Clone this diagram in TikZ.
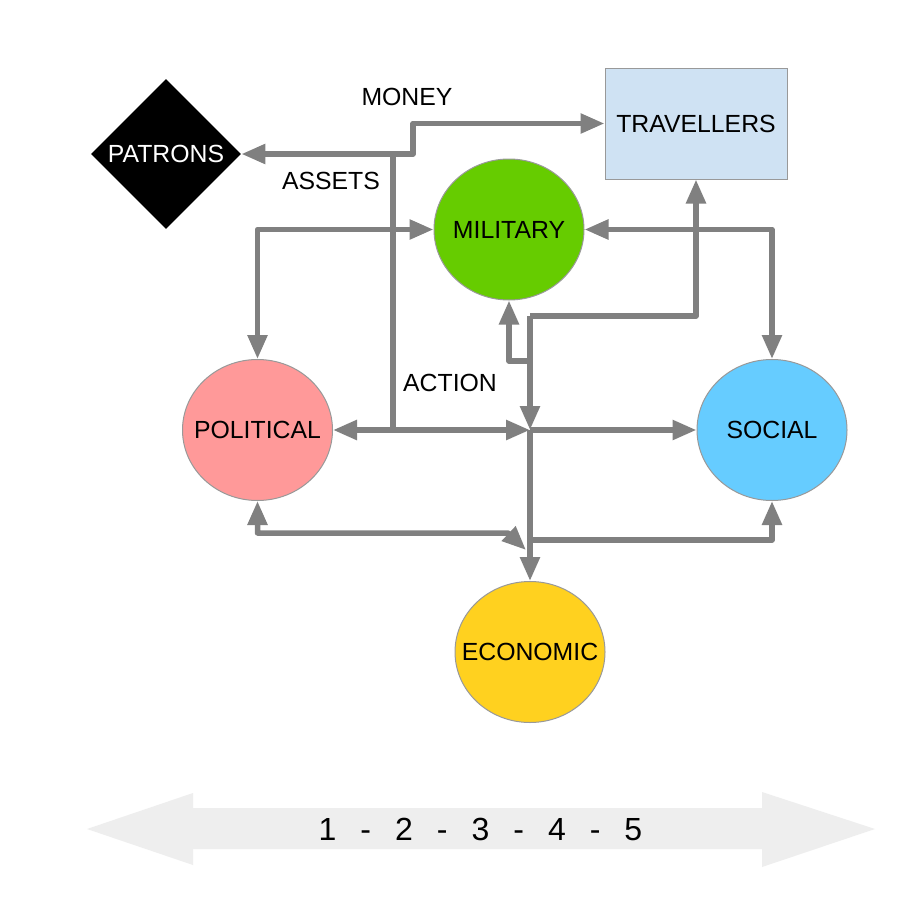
\documentclass[tikz,border=0pt]{standalone}
\usepackage{fontspec}
\setmainfont{Liberation Sans}
\usetikzlibrary{arrows.meta,shapes.geometric}
\definecolor{linegray}{HTML}{808080}
\definecolor{edgegray}{HTML}{999999}
\definecolor{milgreen}{HTML}{66CC00}
\definecolor{polred}{HTML}{FF9999}
\definecolor{socblue}{HTML}{66CCFF}
\definecolor{ecoyellow}{HTML}{FFD11F}
\definecolor{travblue}{HTML}{CFE2F3}
\definecolor{bandgray}{HTML}{EEEEEE}
\begin{document}
\begin{tikzpicture}[x=0.5pt,y=-0.5pt,
  every node/.style={font=\fontsize{12.4}{14}\selectfont},
  flow/.style={draw=linegray,line width=2.75pt,line join=round,>={Triangle[length=12pt,width=9.5pt]}},
  sphere/.style={ellipse,draw=edgegray,line width=0.5pt,minimum width=75pt,minimum height=70.5pt,inner sep=0pt}]

\path[use as bounding box,fill=white] (0,0) rectangle (919,921);

% nodes
\node[diamond,fill=black,minimum width=75pt,minimum height=75pt,inner sep=0pt,
      label={[text=white]center:PATRONS}] (patrons) at (166,154) {};
\node[rectangle,draw=edgegray,line width=0.5pt,fill=travblue,minimum width=91pt,minimum height=55.5pt] (trav) at (696,123.5) {TRAVELLERS};
\node[sphere,fill=milgreen,label=center:MILITARY] (mil) at (509,229.5) {};
\node[sphere,fill=polred,label=center:POLITICAL] (pol) at (257.5,430) {};
\node[sphere,fill=socblue,label=center:SOCIAL] (soc) at (772,430) {};
\node[sphere,fill=ecoyellow,label=center:ECONOMIC] (eco) at (530,652) {};

% junctions
\coordinate (cross) at (530,430);
\coordinate (jA) at (393,430);
\coordinate (jB) at (393,154);
\coordinate (jM) at (413,154);
\coordinate (top) at (530,316);
\coordinate (brM) at (530,361);
\coordinate (pe1) at (508,533);
\coordinate (pe2) at (526,550);
\coordinate (se1) at (530,540);

% connectors
\draw[flow,->] (jA) -- (jB) -- (patrons.east);
\draw[flow,->] (jB) -- (jM) |- (trav.west);
\draw[flow,<->] (pol.east) -- (cross);
\draw[flow,->] (cross) -- (soc.west);
\draw[flow,->] (top) -| (trav.south);
\draw[flow,->] (top) -- (cross);
\draw[flow,->] (cross) -- (eco.north);
\draw[flow,->] (brM) -| (mil.south);
\draw[flow,<->] (pol.north) |- (mil.west);
\draw[flow,<->] (mil.east) -| (soc.north);
\draw[flow,<->] (pol.south) |- (pe1) -- (pe2);
\draw[flow,->] (se1) -| (soc.south);

% labels
\node (money) at (407,97) {MONEY};
\node (assets) at (331,181) {ASSETS};
\node (action) at (450,383) {ACTION};

% scale band
\fill[bandgray] (87,829) -- (193,793) -- (193,808) -- (762,808) -- (762,792) -- (875,829)
  -- (762,867) -- (762,849) -- (193,849) -- (193,865) -- cycle;
\node[font=\fontsize{16}{18}\selectfont] (scale) at (480.5,829)
  {1\hspace{12pt}-\hspace{12pt}2\hspace{12pt}-\hspace{12pt}3\hspace{12pt}-\hspace{12pt}4\hspace{12pt}-\hspace{12pt}5};
\end{tikzpicture}
\end{document}
